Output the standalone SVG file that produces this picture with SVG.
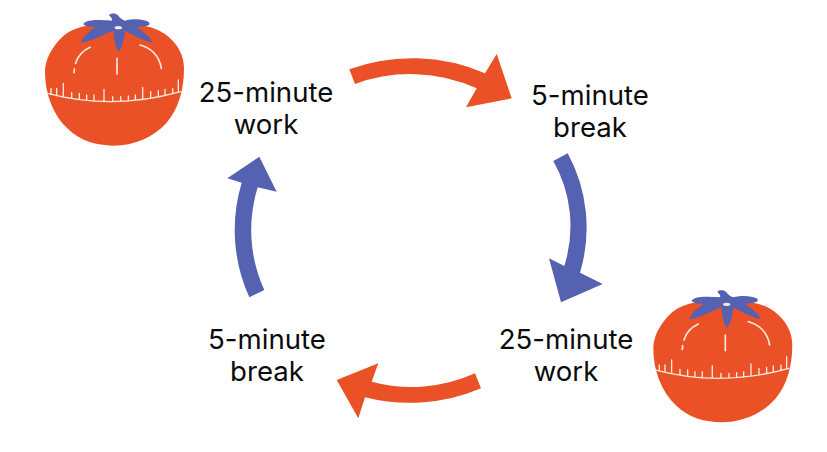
<svg xmlns="http://www.w3.org/2000/svg" width="827" height="452" viewBox="0 0 827 452">
<style>
.o{fill:#EB5126}
.b{fill:#5561B1}
.m{fill:none;stroke:#FBEBDC;stroke-linecap:round}
text{font-family:Inter,"Liberation Sans",sans-serif;font-size:27.6px;fill:#0b0b0b;text-anchor:middle}
</style>
<defs>
<g id="tomato" transform="translate(30 0) scale(.33333)">
<path class="o" d="M252 74C200 70 135 76 100 108C65 140 45 180 45 215C45 280 68 345 115 388C150 422 200 437 250 437C312 437 370 412 410 368C445 328 462 270 462 205C462 165 442 128 405 102C365 74 310 72 252 74Z"/>
<path class="b" d="M160 72C172 57 205 60 245 62C249 55 240 50 237 45C245 38 258 40 263 45C270 55 275 58 285 62C310 55 340 57 355 65C362 72 358 77 345 78L320 82C340 95 358 110 368 127C345 125 310 105 285 92C283 115 278 140 266 155C255 140 252 115 250 92C225 100 185 125 152 128C160 110 175 95 195 82C180 80 165 80 160 72Z"/>
<ellipse cx="265" cy="83" rx="11" ry="5" fill="#FBEBDC"/>
<path class="m" stroke-width="5" d="M132 218L133 207M137 190C143 170 158 152 180 142M261 175V222M330 135C360 142 388 165 394 205"/>
<path class="m" stroke-width="4" d="M52 280Q250 332 452 275M63 283V265M80 287V265M100 291V250M125 295V278M148 299V280M170 301V285M192 303V285M222 304V268M248 305V290M272 304V290M295 303V288M316 301V285M338 298V262M362 295V275M385 291V272M405 287V268M428 281V265M445 276V240"/>
</g>
</defs>
<g id="connectors">
<path class="o" d="M349.3 69.3A184 184 0 0 1 485 73.3L496.7 54L511.7 98.3L466 107.3L476.7 88.3A161 161 0 0 0 355 84Z"/>
<path class="b" d="M553.3 161L567.7 153.3A156 156 0 0 1 580 272.7L602.7 284L561 302.3L549 258.3L564.3 266A132 132 0 0 0 553.3 161Z"/>
<path class="o" d="M475 373.3A154 154 0 0 1 371.7 381.7L378.3 363.3L336.7 380L358.3 418.3L365 397.3A182 182 0 0 0 481 388.3Z"/>
<path class="b" d="M249.3 297.3L264.3 290A144 144 0 0 1 257.7 187.3L276.7 191.7L259.3 156.7L227.3 178.3L241.7 182.7A163 163 0 0 0 249.3 297.3Z"/>
</g>
<g id="tomato-1"><use href="#tomato"/></g>
<g id="tomato-2"><use href="#tomato" x="608.3" y="276.7"/></g>
<g id="node-work-1"><text x="266" y="102">25-minute</text><text x="266" y="134">work</text></g>
<g id="node-break-1"><text x="590" y="105">5-minute</text><text x="590" y="137">break</text></g>
<g id="node-work-2"><text x="566" y="349">25-minute</text><text x="566" y="381">work</text></g>
<g id="node-break-2"><text x="267" y="349">5-minute</text><text x="267" y="381">break</text></g>
</svg>
